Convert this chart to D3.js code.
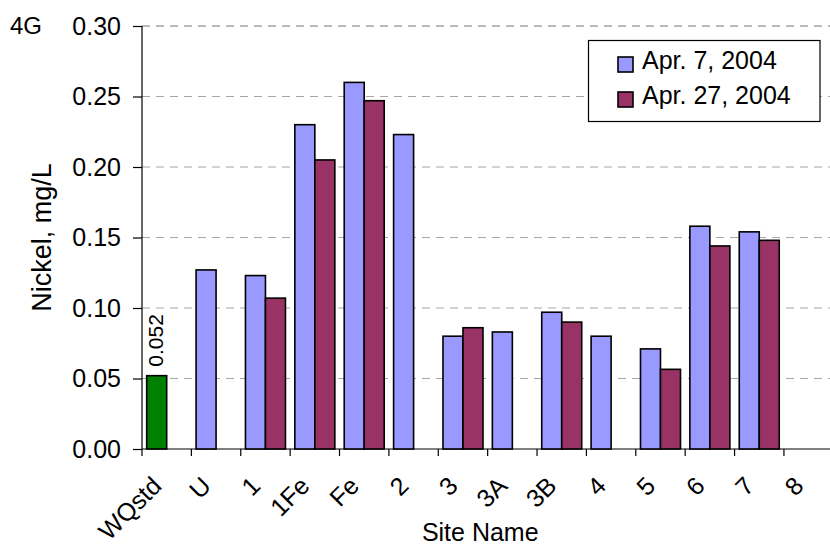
<!DOCTYPE html>
<html>
<head>
<meta charset="utf-8">
<script src="https://cdn.jsdelivr.net/npm/d3@7"></script>
<style>
  html, body { margin: 0; padding: 0; background: #fff; }
  svg { display: block; font-family: "Liberation Sans", Arial, sans-serif; }
</style>
</head>
<body>
<svg id="chart" width="830" height="548"></svg>
<script>
// ---- data ----
const categories = ["WQstd", "U", "1", "1Fe", "Fe", "2", "3", "3A", "3B", "4", "5", "6", "7", "8"];
const seriesNames = ["Apr. 7, 2004", "Apr. 27, 2004"];
const apr7  = [null, 0.127, 0.123, 0.230, 0.260, 0.223, 0.080, 0.083, 0.097, 0.080, 0.071, 0.158, 0.154, null];
const apr27 = [null, null, 0.107, 0.205, 0.247, null, 0.086, null, 0.090, null, 0.0565, 0.144, 0.148, null];
const standardValue = [0.052];         // WQstd (water quality standard)
const standardLabel = ["0.052"];
const yTicks = [0, 0.05, 0.10, 0.15, 0.20, 0.25, 0.30];
const panelLabel = "4G";

(function () {
// ---- layout ----
const svg = d3.select("#chart");
const pLeft = 142, pTop = 26, pBottom = 449;
const step = 49.38;
const pRight = pLeft + step * categories.length;
const colors = ["#9999FF", "#993366"];
const stdColor = "#008000";

const x0 = d3.scaleBand().domain(categories).range([pLeft, pRight]).padding(0);
const x1 = d3.scaleBand().domain([0, 1]).range([0, x0.bandwidth()]).paddingInner(0).paddingOuter(0.2345);
const y = d3.scaleLinear().domain([0, 0.30]).range([pBottom, pTop]);

// gridlines
svg.append("g").selectAll("line").data(yTicks.filter(d => d > 0)).join("line")
  .attr("x1", pLeft).attr("x2", 830)
  .attr("y1", d => y(d)).attr("y2", d => y(d))
  .attr("stroke", d => d === 0.30 ? "#777" : "#a6a6a6")
  .attr("stroke-width", 1.2)
  .attr("stroke-dasharray", "8,6");

// y axis
const yAxis = d3.axisLeft(y).tickValues(yTicks).tickFormat(d3.format(".2f")).tickSize(9).tickPadding(12);
const gy = svg.append("g").attr("transform", `translate(${pLeft},0)`).call(yAxis);
gy.select(".domain").attr("stroke", "#000").attr("stroke-width", 1.2).attr("d", `M0,${pTop}V${pBottom}`);
gy.selectAll(".tick line").attr("stroke", "#000").attr("stroke-width", 1.2);
gy.selectAll(".tick text").attr("font-size", 25).attr("font-family", "Liberation Sans, Arial, sans-serif").attr("fill", "#000");

// x axis
const xAxis = d3.axisBottom(x0).tickSize(0).tickFormat("");
const gx = svg.append("g").attr("transform", `translate(0,${pBottom})`).call(xAxis);
gx.select(".domain").attr("stroke", "#000").attr("stroke-width", 1.2).attr("d", `M${pLeft},0H830`);
// boundary tick marks
svg.append("g").selectAll("line").data(categories).join("line")
  .attr("x1", d => x0(d)).attr("x2", d => x0(d))
  .attr("y1", pBottom).attr("y2", pBottom + 7)
  .attr("stroke", "#000").attr("stroke-width", 1.2);

// category labels rotated
svg.append("g").selectAll("text").data(categories).join("text")
  .attr("transform", d => `translate(${x0(d) + x0.bandwidth() / 2 - 16},${pBottom + 26}) rotate(-45)`)
  .attr("text-anchor", "end")
  .attr("dy", "0.7em")
  .attr("font-size", 25)
  .text(d => d);

// bars
const series = [apr7, apr27];
series.forEach((vals, si) => {
  svg.append("g").selectAll("rect")
    .data(categories.map((c, i) => ({ c, v: vals[i] })).filter(d => d.v != null))
    .join("rect")
    .attr("x", d => x0(d.c) + x1(si))
    .attr("y", d => y(d.v))
    .attr("width", x1.bandwidth())
    .attr("height", d => y(0) - y(d.v))
    .attr("fill", colors[si])
    .attr("stroke", "#000")
    .attr("stroke-width", 1.6);
});

// standard bar
svg.append("g").selectAll("rect").data(standardValue).join("rect")
  .attr("x", x0(categories[0]) + x1(0))
  .attr("y", d => y(d))
  .attr("width", x1.bandwidth())
  .attr("height", d => y(0) - y(d))
  .attr("fill", stdColor)
  .attr("stroke", "#000")
  .attr("stroke-width", 1.6);

svg.append("g").selectAll("text").data(standardValue).join("text")
  .attr("transform", d => `translate(${x0(categories[0]) + x1(0) + x1.bandwidth() / 2 + 6},${y(d) - 9}) rotate(-90)`)
  .attr("font-size", 21)
  .text((d, i) => standardLabel[i]);

// axis titles
svg.append("text")
  .attr("x", x0(categories[6]) + step * 0.85).attr("y", 541)
  .attr("text-anchor", "middle").attr("font-size", 25)
  .text("Site Name");

svg.append("text")
  .attr("transform", `translate(51,${(pTop + pBottom) / 2}) rotate(-90)`)
  .attr("text-anchor", "middle").attr("font-size", 27)
  .text("Nickel, mg/L");

svg.append("text").attr("x", 10).attr("y", 34).attr("font-size", 24).text(panelLabel);

// legend
const lg = svg.append("g");
lg.append("rect").attr("x", 588.5).attr("y", 40.5).attr("width", 231.5).attr("height", 81)
  .attr("fill", "#fff").attr("stroke", "#000").attr("stroke-width", 1.2);
seriesNames.forEach((name, i) => {
  const yy = 57 + i * 35;
  lg.append("rect").attr("x", 618).attr("y", yy).attr("width", 15).attr("height", 15)
    .attr("fill", colors[i]).attr("stroke", "#000").attr("stroke-width", 1.6);
  lg.append("text").attr("x", 642).attr("y", yy + 12).attr("font-size", 25).text(name);
});
})();
</script>
</body>
</html>
